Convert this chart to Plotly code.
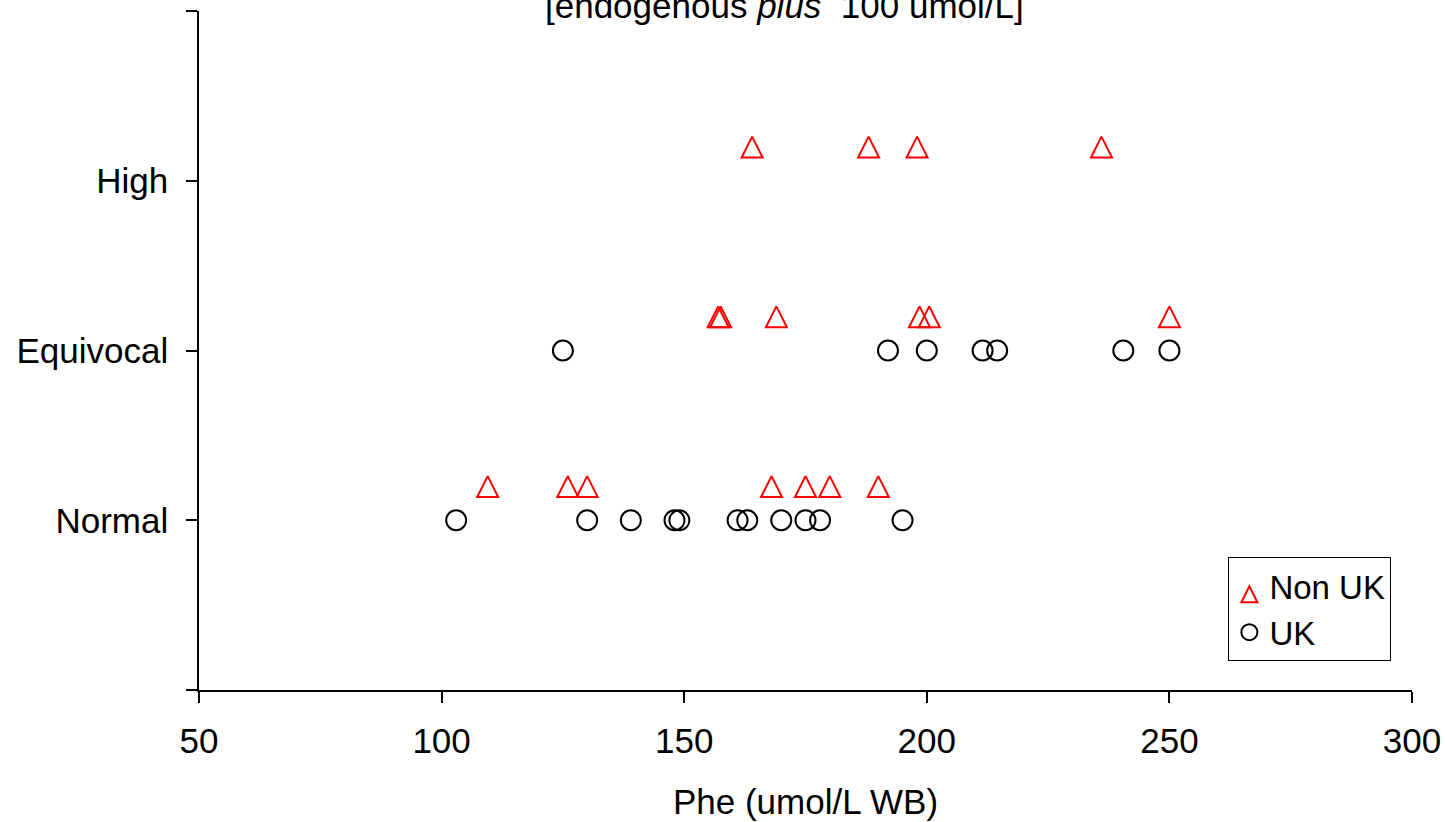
import plotly.graph_objects as go

# ---- data ----
categories = ["Normal", "Equivocal", "High"]
cat_pos = [1, 2, 3]

uk_normal = [103, 130, 139, 148, 149, 161, 163, 170, 175, 178, 195]
uk_equivocal = [125, 192, 200, 211.5, 214.5, 240.5, 250]
uk_high = []

nonuk_normal = [109.5, 126, 130, 168, 175, 180, 190]
nonuk_equivocal = [157, 157.5, 169, 198.5, 200.5, 250]
nonuk_high = [164, 188, 198, 236]

x_ticks = [50, 100, 150, 200, 250, 300]

# ---- styling constants ----
FONT = "Liberation Sans, Arial, sans-serif"
FS = 35
NONUK_OFFSET = 0.26  # vertical offset of Non UK row above each category (arrow apex)

uk_x, uk_y = [], []
for pos, vals in zip(cat_pos, [uk_normal, uk_equivocal, uk_high]):
    uk_x += vals
    uk_y += [pos] * len(vals)

nu_x, nu_y = [], []
for pos, vals in zip(cat_pos, [nonuk_normal, nonuk_equivocal, nonuk_high]):
    nu_x += vals
    nu_y += [pos + NONUK_OFFSET] * len(vals)

fig = go.Figure()
fig.add_trace(go.Scatter(
    x=nu_x, y=nu_y, mode="markers", name="Non UK",
    marker=dict(symbol="arrow-up-open", size=21, color="#FF0000",
                line=dict(color="#FF0000", width=2)),
))
fig.add_trace(go.Scatter(
    x=uk_x, y=uk_y, mode="markers", name="UK",
    marker=dict(symbol="circle-open", size=20, color="#000000",
                line=dict(color="#000000", width=2)),
))

L, R, T, B = 198.5, 33, 10.7, 132
W, H = 1445, 822
plot_h = H - T - B
plot_w = W - L - R

fig.update_layout(
    width=W, height=H,
    margin=dict(l=L, r=R, t=T, b=B, pad=0, autoexpand=False),
    plot_bgcolor="white", paper_bgcolor="white",
    font=dict(family=FONT, size=FS, color="#000000"),
    showlegend=True,
    legend=dict(
        x=(1228.3 - L) / plot_w, y=(H - B - 557.3) / plot_h,
        xanchor="left", yanchor="top",
        bordercolor="#000000", borderwidth=1, bgcolor="white",
        font=dict(family=FONT, size=33, color="#000000"),
        tracegroupgap=0, itemsizing="trace",
        entrywidth=141, entrywidthmode="pixels",
    ),
    xaxis=dict(
        range=[50, 300], tickvals=x_ticks, ticktext=[str(v) for v in x_ticks],
        showgrid=False, zeroline=False,
        showline=True, linecolor="#000000", linewidth=1.5,
        ticks="outside", ticklen=11, tickwidth=1.5, tickcolor="#000000",
        tickfont=dict(family=FONT, size=FS, color="#000000"),
        ticklabelstandoff=8,
        title=dict(text="Phe (umol/L WB)", font=dict(family=FONT, size=FS, color="#000000"),
                   standoff=31),
    ),
    yaxis=dict(
        range=[0, 4], tickvals=[0] + cat_pos + [4], ticktext=[""] + categories + [""],
        showgrid=False, zeroline=False,
        showline=True, linecolor="#000000", linewidth=1.5,
        ticks="outside", ticklen=11, tickwidth=1.5, tickcolor="#000000",
        tickfont=dict(family=FONT, size=FS, color="#000000"),
        ticklabelstandoff=11,
    ),
    annotations=[dict(
        text="[endogenous <i>plus</i>  100 umol/L]",
        xref="paper", yref="paper",
        x=(784.5 - L) / plot_w, y=1 + (T + 16) / plot_h,
        xanchor="center", yanchor="top", showarrow=False,
        font=dict(family=FONT, size=FS, color="#000000"),
    )],
)

fig.write_html(
    "out.html",
    config={"displayModeBar": False},
    post_script="document.body.style.margin='0';document.body.style.overflow='hidden';",
)
